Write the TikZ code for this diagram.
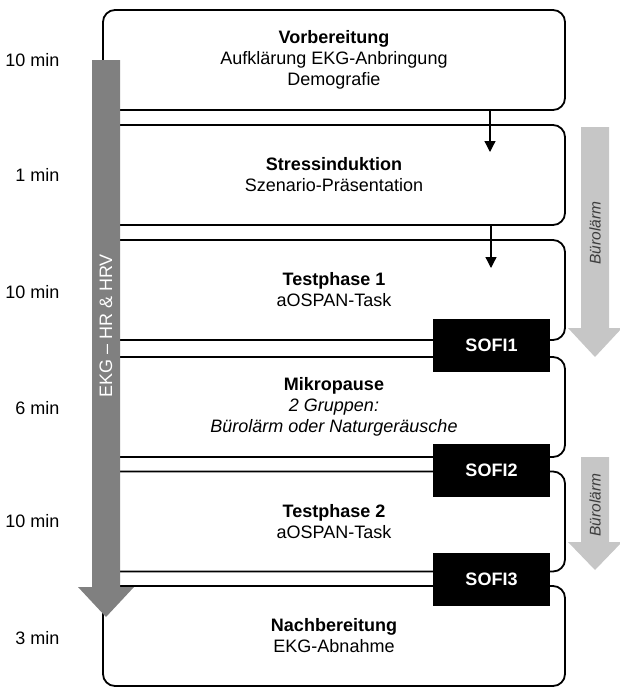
\documentclass[tikz,border=0pt]{standalone}
\usepackage{fontspec}
\setmainfont{Liberation Sans}
\usetikzlibrary{arrows.meta}

\begin{document}
\begin{tikzpicture}[x=1pt,y=-1pt,
    phase/.style={draw, line width=1.8pt, rounded corners=12pt, minimum width=462pt,
      minimum height=100pt, align=center, font=\fontsize{18}{21}\selectfont},
    sofi/.style={fill=black, text=white, minimum width=117pt, minimum height=53pt,
      font=\fontsize{18}{21}\selectfont\bfseries},
    dur/.style={anchor=east, font=\fontsize{18}{21}\selectfont},
    flow/.style={line width=1.3pt, -{Triangle[width=11pt,length=11pt]}}]
    \useasboundingbox (0,0) rectangle (619,688);

    \definecolor{ekggray}{RGB}{128,128,128}
    \definecolor{noisegray}{RGB}{198,198,198}
    \definecolor{noisetext}{RGB}{60,60,60}

    % phases of the session
    \node[phase] (vor) at (334,60) {\textbf{Vorbereitung}\\Aufklärung EKG-Anbringung\\Demografie};
    \node[phase] (stress) at (334,175) {\textbf{Stressinduktion}\\Szenario-Präsentation};
    \node[phase] (test1) at (334,290) {\textbf{Testphase 1}\\aOSPAN-Task};
    \node[phase] (pause) at (334,407) {\textbf{Mikropause}\\\textit{2 Gruppen:}\\\textit{Bürolärm oder Naturgeräusche}};
    \node[phase] (test2) at (334,521.5) {\textbf{Testphase 2}\\aOSPAN-Task};
    \node[phase] (nach) at (334,636) {\textbf{Nachbereitung}\\EKG-Abnahme};

    % durations
    \foreach \t/\y [count=\i] in {10 min/60, 1 min/175, 10 min/292, 6 min/408, 10 min/521, 3 min/638}
      \node[dur] (d\i) at (63,\y) {\t};

    % EKG recording over the whole session
    \fill[ekggray] (92,60) -- (120,60) -- (120,587) -- (134,587) -- (106,617) -- (78,587) -- (92,587) -- cycle;
    \node[rotate=90, text=white, font=\fontsize{18}{21}\selectfont] (ekg) at (106,326) {EKG -- HR \& HRV};

    % questionnaires
    \node[sofi] (sofi1) at (491.5,345.5) {SOFI1};
    \node[sofi] (sofi2) at (491.5,470) {SOFI2};
    \node[sofi] (sofi3) at (491.5,579) {SOFI3};

    % flow into the stress phase
    \coordinate (s1) at (490,152);
    \coordinate (s2) at (491,268);
    \draw[flow] (vor.south -| s1) -- (s1);
    \draw[flow] (stress.south -| s2) -- (s2);

    % office noise
    \foreach \a/\b/\c/\m [count=\i] in {127/328/357/233, 457/542/570/505} {
      \fill[noisegray] (581,\a) -- (609,\a) -- (609,\b) -- (622,\b) -- (595,\c) -- (568,\b) -- (581,\b) -- cycle;
      \node[rotate=90, text=noisetext, font=\fontsize{15.5}{18}\selectfont\itshape] (noise\i) at (595,\m) {Bürolärm};
    }
  \end{tikzpicture}
\end{document}
